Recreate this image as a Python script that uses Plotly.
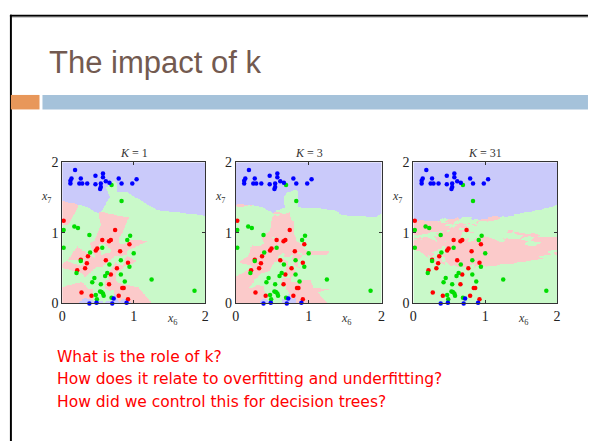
import numpy as np
import plotly.graph_objects as go

W, H = 590, 447

# Training points (x6, x7) for the three classes
red_x = [0.02, 0.74, 0.56, 0.68, 0.655, 0.94, 0.49, 0.47, 0.81, 0.36, 0.26, 0.61, 0.345,
         0.92, 0.765, 0.21, 0.32, 0.68, 0.655, 0.84, 0.86, 0.27, 0.41, 0.79, 0.92]
red_y = [1.17, 1.04, 0.90, 0.90, 0.88, 0.84, 0.78, 0.75, 0.74, 0.67, 0.62, 0.61, 0.57,
         0.575, 0.50, 0.47, 0.50, 0.41, 0.27, 0.22, 0.22, 0.155, 0.11, 0.11, 0.06]
green_x = [0.69, 0.83, 0.02, 0.02, 0.17, 0.22, 0.38, 0.56, 0.39, 0.91, 0.95, 1.00, 0.26,
           0.82, 0.66, 0.94, 0.20, 0.45, 0.42, 0.63, 0.60, 0.82, 0.54, 0.875, 0.55, 0.53,
           0.57, 0.58, 0.47, 0.485, 1.25, 1.85, 0.69]
green_y = [1.68, 1.45, 1.04, 0.79, 1.09, 1.07, 0.97, 0.79, 0.72, 0.90, 0.96, 0.71, 0.60,
           0.61, 0.55, 0.52, 0.43, 0.36, 0.30, 0.43, 0.39, 0.41, 0.27, 0.31, 0.16, 0.17,
           0.14, 0.11, 0.12, 0.06, 0.34, 0.18, 0.08]
blue_x = [0.18, 0.115, 0.115, 0.13, 0.26, 0.24, 0.28, 0.35, 0.465, 0.465, 0.54, 0.57, 0.57,
          0.54, 0.53, 0.61, 0.66, 0.79, 0.83, 0.98, 1.04, 0.38, 0.48, 0.72, 0.70, 0.90]
blue_y = [1.89, 1.74, 1.70, 1.77, 1.77, 1.70, 1.70, 1.70, 1.81, 1.69, 1.70, 1.84, 1.79,
          1.65, 1.62, 1.73, 1.71, 1.77, 1.70, 1.70, 1.76, 0.0, 0.01, 0.07, 0.0, 0.01]

k_values = [1, 3, 31]
tick_vals = [0, 1, 2]
tick_text = ["0", "1", "2"]

# Panel placement in pixels: (left, right) of each plotting box; shared top/bottom
panel_x = [(59, 204), (235, 382.7), (415, 560.7)]
panel_top, panel_bottom = 160.7, 306.7

region_colors = ["#fbcaca", "#c9f9c9", "#cacafa"]
point_colors = ["#ff0000", "#00dd00", "#0000ff"]


def px(x):
    return x / W


def py(y):
    return 1 - y / H


# KNN classification over a grid
train = np.array(list(zip(red_x + green_x + blue_x, red_y + green_y + blue_y)))
labels = np.array([0] * len(red_x) + [1] * len(green_x) + [2] * len(blue_x))
n = 220
g = (np.arange(n) + 0.5) * 2.0 / n
gx, gy = np.meshgrid(g, g)
grid = np.column_stack([gx.ravel(), gy.ravel()])
d = ((grid[:, None, :] - train[None, :, :]) ** 2).sum(-1)
order = np.argsort(d, axis=1)


def classify(k):
    nn = labels[order[:, :k]]
    counts = np.stack([(nn == c).sum(1) for c in range(3)], axis=1)
    best = counts.max(1)
    out = np.empty(len(grid), dtype=int)
    for i in range(len(grid)):
        tied = np.where(counts[i] == best[i])[0]
        if len(tied) == 1:
            out[i] = tied[0]
        else:
            # break ties with the closest neighbour among tied classes
            for lab in nn[i]:
                if lab in tied:
                    out[i] = lab
                    break
    return out.reshape(n, n)


colorscale = [[0, region_colors[0]], [1 / 3, region_colors[0]],
              [1 / 3, region_colors[1]], [2 / 3, region_colors[1]],
              [2 / 3, region_colors[2]], [1, region_colors[2]]]

fig = go.Figure()
annotations = []
serif = "Liberation Serif"


def label(x, y, text, size, family=serif, color="#333", xanchor="center"):
    return dict(x=px(x), y=py(y), text=text, showarrow=False, xref="paper", yref="paper",
                xanchor=xanchor, yanchor="middle",
                font=dict(family=family, size=size, color=color))


for i, k in enumerate(k_values):
    xa = "x" if i == 0 else f"x{i + 1}"
    ya = "y" if i == 0 else f"y{i + 1}"
    fig.add_trace(go.Heatmap(x=g, y=g, z=classify(k), zmin=-0.5, zmax=2.5,
                             colorscale=colorscale, showscale=False,
                             xaxis=xa, yaxis=ya, hoverinfo="skip"))
    for c, (xs, ys) in enumerate([(red_x, red_y), (green_x, green_y), (blue_x, blue_y)]):
        fig.add_trace(go.Scatter(x=xs, y=ys, mode="markers", xaxis=xa, yaxis=ya,
                                 marker=dict(size=4.5, color=point_colors[c]),
                                 showlegend=False, cliponaxis=False))
    l, r = panel_x[i]
    axis_common = dict(range=[0, 2], tickvals=tick_vals, ticktext=tick_text,
                       ticks="inside", ticklen=3, tickcolor="#333",
                       showline=True, linecolor="#333", linewidth=1, mirror="ticks",
                       showgrid=False, zeroline=False,
                       tickfont=dict(family=serif, size=14, color="#222"))
    fig.update_layout({
        f"xaxis{'' if i == 0 else i + 1}": dict(domain=[px(l), px(r)], anchor=ya, **axis_common),
        f"yaxis{'' if i == 0 else i + 1}": dict(domain=[py(panel_bottom), py(panel_top)], anchor=xa, **axis_common),
    })
    annotations.append(label((l + r) / 2, 151, f"<i>K</i> = {k}", 12))
    annotations.append(label(l + 112, 323, "<i>x</i><sub>6</sub>", 12))
    annotations.append(label(l - 16, 197, "<i>x</i><sub>7</sub>", 12))

# Slide title
annotations.append(label(44, 57, "The impact of k", 31, family="Liberation Sans",
                         color="#735a50", xanchor="left"))

# Questions
questions = ["What is the role of k?",
             "How does it relate to overfitting and underfitting?",
             "How did we control this for decision trees?"]
for j, q in enumerate(questions):
    annotations.append(label(52, 362 + 23.2 * j, q, 15.5, family="DejaVu Sans",
                             color="#ff0000", xanchor="left"))

shapes = [
    # slide frame
    dict(type="rect", x0=px(6), x1=px(W + 2), y0=py(10), y1=py(8), fillcolor="#000", line_width=0),
    dict(type="rect", x0=px(8), x1=px(W + 2), y0=py(11), y1=py(10), fillcolor="#bbb", line_width=0),
    dict(type="rect", x0=px(6), x1=px(8), y0=py(H + 2), y1=py(8), fillcolor="#000", line_width=0),
    # title rule bars
    dict(type="rect", x0=px(7), x1=px(36), y0=py(106), y1=py(91), fillcolor="#e8975a", line_width=0),
    dict(type="rect", x0=px(39), x1=px(W + 2), y0=py(106), y1=py(91), fillcolor="#a5c2da", line_width=0),
]
for s in shapes:
    s.update(xref="paper", yref="paper", layer="below")

fig.update_layout(width=W, height=H, margin=dict(l=0, r=0, t=0, b=0),
                  paper_bgcolor="white", plot_bgcolor="white", showlegend=False,
                  annotations=annotations, shapes=shapes)

fig.write_html("out.html", config={"displayModeBar": False})
